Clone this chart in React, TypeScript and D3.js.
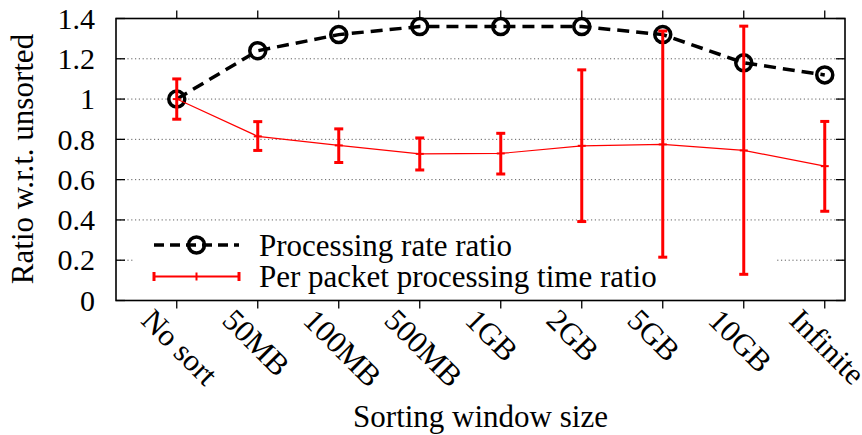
import React from "react";
import * as d3 from "d3";

const categories = ["No sort", "50MB", "100MB", "500MB", "1GB", "2GB", "5GB", "10GB", "Infinite"];
const rateRatio = [1.0, 1.24, 1.32, 1.36, 1.36, 1.36, 1.32, 1.18, 1.12];
const timeRatio = [1.0, 0.815, 0.77, 0.728, 0.73, 0.768, 0.775, 0.745, 0.667];
const timeLow = [0.9, 0.745, 0.685, 0.648, 0.628, 0.392, 0.215, 0.13, 0.443];
const timeHigh = [1.1, 0.888, 0.852, 0.807, 0.83, 1.145, 1.338, 1.362, 0.889];
const yTicks = [0, 0.2, 0.4, 0.6, 0.8, 1, 1.2, 1.4];
const legendLabels = ["Processing rate ratio", "Per packet processing time ratio"];

const W = 862;
const H = 435;
const FONT = "'Liberation Serif', 'Times New Roman', serif";
const FS = 31;

export default function App() {
  const x = d3.scaleLinear().domain([-0.75, 8.25]).range([116, 845]);
  const y = d3.scaleLinear().domain([0, 1.4]).range([300.5, 18.5]);
  const [x0, x1] = x.range();
  const [yb, yt] = y.range();

  const idx = categories.map((_, i) => i);
  const rateLine = d3
    .line<number>()
    .x((i) => x(i))
    .y((i) => y(rateRatio[i]))(idx) as string;
  const timeLine = d3
    .line<number>()
    .x((i) => x(i))
    .y((i) => y(timeRatio[i]))(idx) as string;

  const red = "#ff0000";
  const cap = 4.5;
  const leg1 = 245;
  const leg2 = 276.5;
  const lx0 = 154;
  const lx1 = 239;
  const lxm = (lx0 + lx1) / 2;

  return (
    <div style={{ position: "absolute", left: 0, top: 0 }}>
      <svg width={W} height={H} style={{ display: "block", background: "#fff" }} fontFamily={FONT}>
        <rect x={0} y={0} width={W} height={H} fill="#fff" />
        {/* grid */}
        {yTicks
          .filter((t) => t > 0 && t < 1.4)
          .map((t) => (
            <line
              key={"g" + t}
              x1={x0}
              x2={x1}
              y1={y(t)}
              y2={y(t)}
              stroke="#606060"
              strokeWidth={1}
              strokeDasharray="1.2,2.6"
            />
          ))}
        {/* legend opaque box */}
        <rect x={134} y={226} width={641} height={68} fill="#fff" />

        {/* y ticks (inward, both sides) */}
        {yTicks.map((t) => (
          <g key={"yt" + t}>
            <line x1={x0} x2={x0 + 9} y1={y(t)} y2={y(t)} stroke="#000" strokeWidth={1.3} />
            <line x1={x1} x2={x1 - 9} y1={y(t)} y2={y(t)} stroke="#000" strokeWidth={1.3} />
            <text x={95} y={y(t)} dy="0.34em" textAnchor="end" fontSize={30} fill="#000">
              {String(t)}
            </text>
          </g>
        ))}
        {/* x ticks (outward, both sides) */}
        {categories.map((c, i) => (
          <g key={"xt" + c}>
            <line x1={x(i)} x2={x(i)} y1={yb} y2={yb + 8} stroke="#000" strokeWidth={1.3} />
            <line x1={x(i)} x2={x(i)} y1={yt} y2={yt - 8} stroke="#000" strokeWidth={1.3} />
            <text
              transform={`translate(${x(i) - 37},322) rotate(45)`}
              textAnchor="start"
              fontSize={FS}
              fill="#000"
            >
              {c}
            </text>
          </g>
        ))}

        {/* frame */}
        <rect x={x0} y={yt} width={x1 - x0} height={yb - yt} fill="none" stroke="#000" strokeWidth={1.6} />

        {/* processing rate series */}
        <path d={rateLine} fill="none" stroke="#000" strokeWidth={3.5} strokeDasharray="12,7" />
        {idx.map((i) => (
          <circle key={"c" + i} cx={x(i)} cy={y(rateRatio[i])} r={8} fill="none" stroke="#000" strokeWidth={3.5} />
        ))}

        {/* per packet time series */}
        <path d={timeLine} fill="none" stroke={red} strokeWidth={1.2} />
        {idx.map((i) => (
          <g key={"e" + i} stroke={red}>
            <line x1={x(i)} x2={x(i)} y1={y(timeLow[i])} y2={y(timeHigh[i])} strokeWidth={3} />
            <line x1={x(i) - cap} x2={x(i) + cap} y1={y(timeLow[i])} y2={y(timeLow[i])} strokeWidth={3} />
            <line x1={x(i) - cap} x2={x(i) + cap} y1={y(timeHigh[i])} y2={y(timeHigh[i])} strokeWidth={3} />
            <line x1={x(i) - 4} x2={x(i) + 4} y1={y(timeRatio[i])} y2={y(timeRatio[i])} strokeWidth={2} />
          </g>
        ))}

        {/* legend */}
        <line x1={lx0} x2={lx1} y1={leg1} y2={leg1} stroke="#000" strokeWidth={3.5} strokeDasharray="10,6" />
        <circle cx={lxm} cy={leg1} r={8} fill="none" stroke="#000" strokeWidth={3.5} />
        <text x={259} y={leg1 + 10.5} fontSize={FS} fill="#000">
          {legendLabels[0]}
        </text>
        <g stroke={red}>
          <line x1={lx0} x2={lx1} y1={leg2} y2={leg2} strokeWidth={2} />
          <line x1={lx0} x2={lx0} y1={leg2 - cap} y2={leg2 + cap} strokeWidth={3} />
          <line x1={lx1} x2={lx1} y1={leg2 - cap} y2={leg2 + cap} strokeWidth={3} />
          <line x1={lxm} x2={lxm} y1={leg2 - 4} y2={leg2 + 4} strokeWidth={2} />
        </g>
        <text x={259} y={leg2 + 10.5} fontSize={FS} fill="#000">
          {legendLabels[1]}
        </text>

        {/* axis titles */}
        <text transform={`translate(33,159) rotate(-90)`} textAnchor="middle" fontSize={FS} fill="#000">
          Ratio w.r.t. unsorted
        </text>
        <text x={(x0 + x1) / 2} y={427} textAnchor="middle" fontSize={FS} fill="#000">
          Sorting window size
        </text>
      </svg>
    </div>
  );
}
